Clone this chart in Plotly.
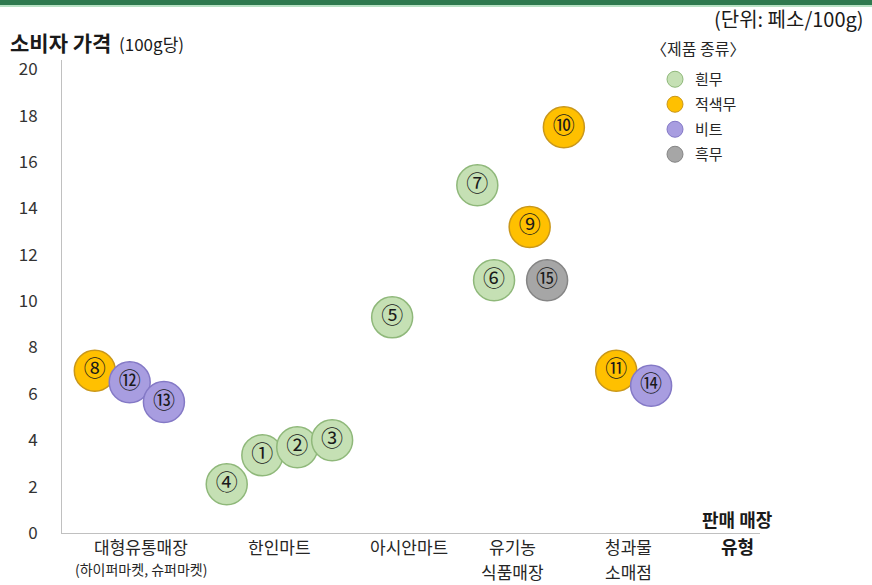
import plotly.graph_objects as go

# ---- data ----
cat_line1 = ["대형유통매장", "한인마트", "아시안마트", "유기농", "청과물"]
cat_line2 = ["(하이퍼마켓, 슈퍼마켓)", "", "", "식품매장", "소매점"]
cat_pos = [11.3, 31.1, 49.7, 64.6, 81.1]

product_types = ["흰무", "적색무", "비트", "흑무"]

item_no = [1, 2, 3, 4, 5, 6, 7, 8, 9, 10, 11, 12, 13, 14, 15]
item_type = ["흰무", "흰무", "흰무", "흰무", "흰무", "흰무", "흰무",
             "적색무", "적색무", "적색무", "적색무",
             "비트", "비트", "비트", "흑무"]
item_pos = [28.7, 33.7, 38.7, 23.6, 47.3, 61.9, 59.5,
            4.7, 67.0, 71.9, 79.4,
            9.7, 14.6, 84.4, 69.5]
item_price = [3.35, 3.7, 4.0, 2.1, 9.3, 10.9, 15.0,
              7.0, 13.2, 17.5, 7.0,
              6.5, 5.65, 6.35, 10.9]

y_ticks = [0, 2, 4, 6, 8, 10, 12, 14, 16, 18, 20]

# ---- styles ----
FONT = "Noto Sans CJK KR"
fill = {"흰무": "#c5e0b4", "적색무": "#ffc000", "비트": "#a89de0", "흑무": "#a6a6a6"}
edge = {"흰무": "#8fb87a", "적색무": "#c9971a", "비트": "#8479c6", "흑무": "#858585"}

fig = go.Figure()

for t in product_types:
    idx = sorted([i for i in range(len(item_no)) if item_type[i] == t], key=lambda i: item_pos[i])
    fig.add_trace(go.Scatter(
        x=[item_pos[i] for i in idx],
        y=[item_price[i] for i in idx],
        mode="markers+text",
        text=[chr(0x2460 + item_no[i] - 1) for i in idx],
        textposition="middle center",
        textfont=dict(family=FONT, size=22, color="#1a1a1a"),
        marker=dict(size=41, color=fill[t], line=dict(color=edge[t], width=1.5)),
        showlegend=False,
        hoverinfo="skip",
    ))

for k, t in enumerate(product_types):
    fig.add_trace(go.Scatter(
        x=[None], y=[None], mode="markers", name=t, legendgroup="g%d" % k,
        marker=dict(size=16, color=fill[t], line=dict(color=edge[t], width=1)),
    ))

L, R, T, B = 62, 112, 60, 52
W, H = 872, 585
ph = H - T - B
pw = W - L - R


def py(p):
    return (H - B - p) / ph


def px(p):
    return (p - L) / pw


annotations = []
for c, l1, l2 in zip(cat_pos, cat_line1, cat_line2):
    annotations.append(dict(x=c, y=py(546), xref="x", yref="paper", text=l1, showarrow=False,
                            xanchor="center", yanchor="middle",
                            font=dict(family=FONT, size=17, color="#262626")))
    if l2:
        small = l2.startswith("(")
        annotations.append(dict(x=c, y=py(569 if small else 571), xref="x", yref="paper", text=l2,
                                showarrow=False, xanchor="center", yanchor="middle",
                                font=dict(family=FONT, size=14 if small else 17, color="#262626")))

annotations += [
    dict(x=px(737), y=py(519), xref="paper", yref="paper", text="<b>판매 매장</b>", showarrow=False,
         xanchor="center", yanchor="middle", font=dict(family=FONT, size=18, color="#1a1a1a")),
    dict(x=px(737), y=py(546), xref="paper", yref="paper", text="<b>유형</b>", showarrow=False,
         xanchor="center", yanchor="middle", font=dict(family=FONT, size=18, color="#1a1a1a")),
    dict(x=px(8), y=py(42), xref="paper", yref="paper", xanchor="left", yanchor="middle",
         text="<b>소비자 가격</b>", showarrow=False,
         font=dict(family=FONT, size=21, color="#1a1a1a")),
    dict(x=px(117), y=py(43), xref="paper", yref="paper", xanchor="left", yanchor="middle",
         text="(100g당)", showarrow=False,
         font=dict(family=FONT, size=17, color="#1a1a1a")),
    dict(x=px(866), y=py(18), xref="paper", yref="paper", xanchor="right", yanchor="middle",
         text="(단위: 페소/100g)", showarrow=False, font=dict(family=FONT, size=20, color="#1a1a1a")),
    dict(x=px(698), y=py(48), xref="paper", yref="paper", xanchor="center", yanchor="middle",
         text="〈제품 종류〉", showarrow=False, font=dict(family=FONT, size=16, color="#262626")),
]

shapes = [
    dict(type="rect", xref="paper", yref="paper", x0=px(-5), x1=px(W + 5), y0=py(-2), y1=py(5),
         fillcolor="#2f7a4f", line=dict(width=0), layer="above"),
    dict(type="rect", xref="paper", yref="paper", x0=px(-5), x1=px(W + 5), y0=py(5), y1=py(7),
         fillcolor="#b8e2c4", line=dict(width=0), layer="above"),
]

fig.update_layout(
    width=W, height=H,
    margin=dict(l=L, r=R, t=T, b=B),
    paper_bgcolor="#ffffff", plot_bgcolor="#ffffff",
    font=dict(family=FONT),
    xaxis=dict(range=[0, 100], showgrid=False, zeroline=False, showticklabels=False,
               showline=True, linecolor="#c0c0c0", linewidth=1, fixedrange=True),
    yaxis=dict(range=[0, 20.4], tickvals=y_ticks, showgrid=False, zeroline=False,
               showline=True, linecolor="#c0c0c0", linewidth=1, ticks="",
               ticklabelstandoff=20, tickfont=dict(family=FONT, size=17, color="#333333")),
    legend=dict(x=px(655), y=py(63), xanchor="left", yanchor="top", bgcolor="rgba(0,0,0,0)",
                font=dict(family=FONT, size=15, color="#262626"), tracegroupgap=2.5,
                itemwidth=30),
    annotations=annotations,
    shapes=shapes,
)

fig.write_html("out.html", config={"displayModeBar": False},
               post_script="document.body.style.margin='0';")
